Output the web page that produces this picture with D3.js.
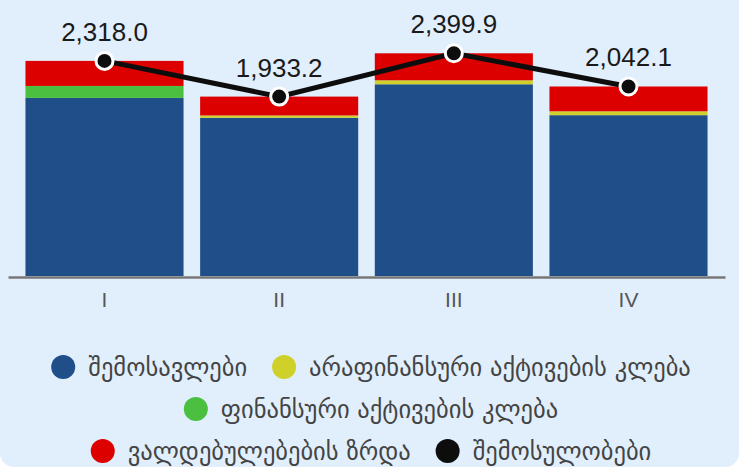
<!DOCTYPE html>
<html>
<head>
<meta charset="utf-8">
<script src="https://cdn.jsdelivr.net/npm/d3@7"></script>
<style>
  body { margin: 0; background: #ffffff; }
  #chart { width: 739px; height: 467px; background: #e1effd; border-radius: 0 0 14px 14px; overflow: hidden; }
  .tick-label { font-family: "Liberation Sans", Arial, sans-serif; font-size: 21px; fill: #555; }
  .value-label { font-family: "Liberation Sans", Arial, sans-serif; font-size: 26px; fill: #1a1a1a; }
  .legend-text { font-family: "DejaVu Sans", sans-serif; font-size: 24.5px; fill: #444; }
</style>
</head>
<body>
<div id="chart"></div>
<script>
const svgWidth = 739,
    svgHeight = 467;

// data
const quarters = ["I", "II", "III", "IV"];
const revenue = [1919, 1705, 2066, 1733];          // შემოსავლები
const nonFinAssets = [0, 25, 43, 42];              // არაფინანსური აქტივების კლება
const finAssets = [129, 0, 0, 0];                  // ფინანსური აქტივების კლება
const liabilities = [270, 203.2, 290.9, 267.1];    // ვალდებულებების ზრდა
const inflows = [2318.0, 1933.2, 2399.9, 2042.1];  // შემოსულობები

const seriesNames = ["შემოსავლები", "არაფინანსური აქტივების კლება", "ფინანსური აქტივების კლება", "ვალდებულებების ზრდა", "შემოსულობები"];
const colors = ["#1f4e89", "#cfd12a", "#4bbf3f", "#dc0000", "#0d0d0d"];

let svg = d3.select("#chart").append("svg")
    .attr("width", svgWidth)
    .attr("height", svgHeight);

let xScale = d3.scaleBand()
    .domain(quarters)
    .range([8, 725])
    .paddingInner(0.095)
    .paddingOuter(0.1);

let yScale = d3.scaleLinear()
    .domain([0, 2500])
    .range([276, 44]);

// stack the four bar series
let rows = quarters.map((q, i) => ({
    q: q,
    s0: revenue[i],
    s1: nonFinAssets[i],
    s2: finAssets[i],
    s3: liabilities[i]
}));
let stack = d3.stack().keys(["s0", "s1", "s2", "s3"]);
let stacked = stack(rows);

svg.append("g")
    .selectAll("g")
    .data(stacked)
    .join("g")
    .attr("fill", (d, i) => colors[i])
    .selectAll("rect")
    .data(d => d)
    .join("rect")
    .attr("x", d => xScale(d.data.q))
    .attr("y", d => yScale(d[1]))
    .attr("width", xScale.bandwidth())
    .attr("height", d => yScale(d[0]) - yScale(d[1]));

// x axis
let xAxis = svg.append("g")
    .attr("transform", `translate(0, ${yScale(0) + 1})`)
    .call(d3.axisBottom(xScale).tickSize(0).tickPadding(15));
xAxis.select(".domain").attr("stroke", "#777").attr("stroke-width", 2.5);
xAxis.selectAll("text").attr("class", "tick-label").attr("fill", null);

// line
let cx = (d, i) => xScale(quarters[i]) + xScale.bandwidth() / 2;
let line = d3.line()
    .x(cx)
    .y(d => yScale(d));

svg.append("path")
    .datum(inflows)
    .attr("fill", "none")
    .attr("stroke", colors[4])
    .attr("stroke-width", 5)
    .attr("d", line);

svg.append("g")
    .selectAll("circle")
    .data(inflows)
    .join("circle")
    .attr("cx", cx)
    .attr("cy", d => yScale(d))
    .attr("r", 8.5)
    .attr("fill", colors[4])
    .attr("stroke", "#fff")
    .attr("stroke-width", 3);

svg.append("g")
    .selectAll("text")
    .data(inflows)
    .join("text")
    .attr("class", "value-label")
    .attr("text-anchor", "middle")
    .attr("x", cx)
    .attr("y", d => yScale(d) - 20)
    .text(d => d3.format(",.1f")(d));

// legend, three centred rows
const legendRows = [[0, 1], [2], [3, 4]];
const legendY = [367, 409, 451];
let legend = svg.append("g");

legendRows.forEach((items, r) => {
    let row = legend.append("g");
    let x = 0;
    items.forEach((idx, k) => {
        row.append("circle")
            .attr("cx", x + 12)
            .attr("cy", 0)
            .attr("r", 12)
            .attr("fill", colors[idx]);
        let t = row.append("text")
            .attr("class", "legend-text")
            .attr("x", x + 37)
            .attr("y", 0)
            .attr("dy", "0.35em")
            .text(seriesNames[idx]);
        x += 37 + t.node().getComputedTextLength() + 25;
    });
    let w = x - 25;
    row.attr("transform", `translate(${371 - w / 2}, ${legendY[r]})`);
});
</script>
</body>
</html>
